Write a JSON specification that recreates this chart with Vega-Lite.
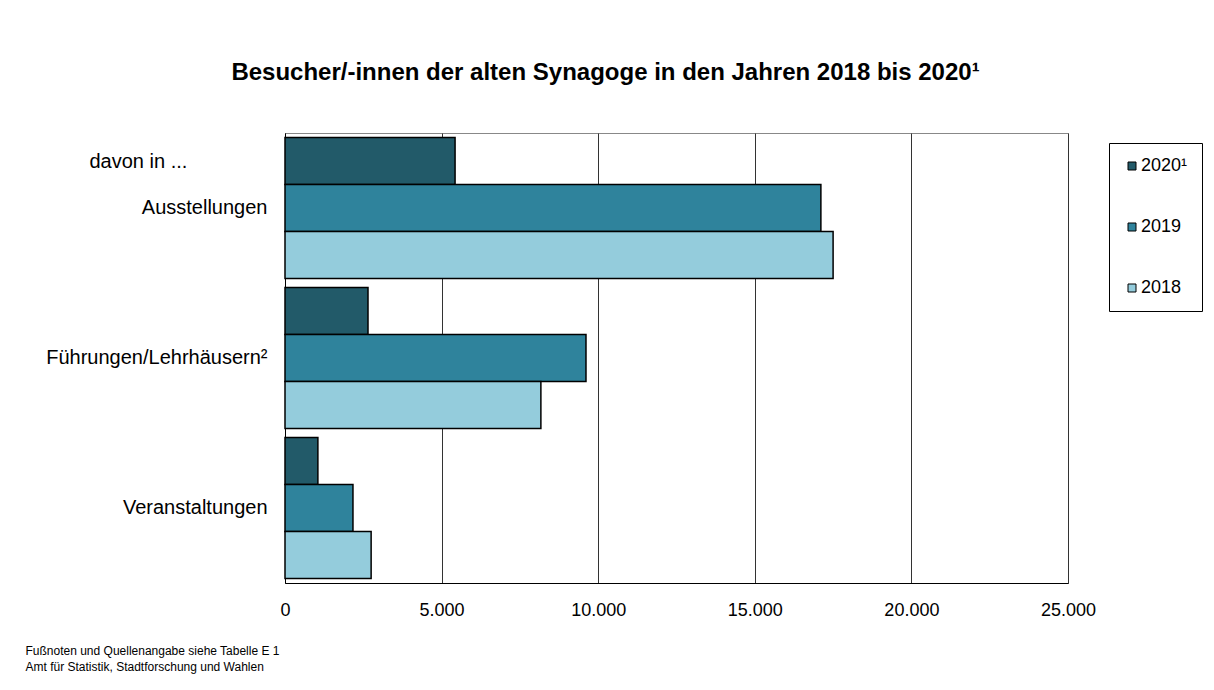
{
  "$schema": "https://vega.github.io/schema/vega-lite/v6.json",
  "width": 783,
  "height": 450,
  "autosize": {"type": "none"},
  "padding": {"left": 285, "top": 133, "right": 146, "bottom": 107},
  "background": "white",
  "title": {
    "text": "Besucher/-innen der alten Synagoge in den Jahren 2018 bis 2020¹",
    "font": "Liberation Sans",
    "fontSize": 24,
    "fontWeight": "bold",
    "color": "black",
    "anchor": "middle",
    "dx": -71,
    "offset": 48
  },
  "data": {
    "values": [
      {"kategorie": "Ausstellungen", "jahr": "2020¹", "besucher": 5430},
      {"kategorie": "Ausstellungen", "jahr": "2019", "besucher": 17110},
      {"kategorie": "Ausstellungen", "jahr": "2018", "besucher": 17500},
      {"kategorie": "Führungen/Lehrhäusern²", "jahr": "2020¹", "besucher": 2650},
      {"kategorie": "Führungen/Lehrhäusern²", "jahr": "2019", "besucher": 9610},
      {"kategorie": "Führungen/Lehrhäusern²", "jahr": "2018", "besucher": 8170},
      {"kategorie": "Veranstaltungen", "jahr": "2020¹", "besucher": 1050},
      {"kategorie": "Veranstaltungen", "jahr": "2019", "besucher": 2170},
      {"kategorie": "Veranstaltungen", "jahr": "2018", "besucher": 2750}
    ]
  },
  "mark": {"type": "bar", "stroke": "black", "strokeWidth": 1.5},
  "encoding": {
    "y": {
      "field": "kategorie",
      "type": "nominal",
      "sort": ["Ausstellungen", "Führungen/Lehrhäusern²", "Veranstaltungen"],
      "scale": {"paddingInner": 0.06, "paddingOuter": 0.03},
      "axis": {
        "title": "davon in ...",
        "titleAngle": 0,
        "titleAlign": "left",
        "titleBaseline": "middle",
        "titleX": -196,
        "titleY": 28,
        "titleFont": "Liberation Sans",
        "titleFontSize": 20,
        "titleFontWeight": "normal",
        "titleColor": "black",
        "labelFont": "Liberation Sans",
        "labelFontSize": 20,
        "labelColor": "black",
        "labelPadding": 18,
        "ticks": false,
        "domainColor": "black",
        "labelLimit": 300
      }
    },
    "yOffset": {
      "field": "jahr",
      "type": "nominal",
      "sort": ["2020¹", "2019", "2018"],
      "scale": {"paddingInner": 0, "paddingOuter": 0}
    },
    "x": {
      "field": "besucher",
      "type": "quantitative",
      "scale": {"domain": [0, 25000], "nice": false},
      "axis": {
        "values": [0, 5000, 10000, 15000, 20000, 25000],
        "labelExpr": "replace(format(datum.value, ',.0f'), ',', '.')",
        "labelFont": "Liberation Sans",
        "labelFontSize": 18,
        "labelColor": "black",
        "labelPadding": 18,
        "labelFlush": false,
        "labelOverlap": false,
        "ticks": false,
        "domainColor": "black",
        "grid": true,
        "gridColor": "#333333",
        "gridWidth": 1,
        "title": ["Fußnoten und Quellenangabe siehe Tabelle E 1", "Amt für Statistik, Stadtforschung und Wahlen"],
        "titleFont": "Liberation Sans",
        "titleFontSize": 12,
        "titleFontWeight": "normal",
        "titleColor": "black",
        "titleAlign": "left",
        "titleAnchor": "start",
        "titleBaseline": "top",
        "titleX": -260,
        "titleY": 62,
        "titleLineHeight": 16
      }
    },
    "color": {
      "field": "jahr",
      "type": "nominal",
      "sort": ["2020¹", "2019", "2018"],
      "scale": {"domain": ["2020¹", "2019", "2018"], "range": ["#225a69", "#2f839c", "#94ccdc"]},
      "legend": {
        "title": null,
        "orient": "none",
        "legendX": 824,
        "legendY": 10,
        "padding": 14,
        "strokeColor": "black",
        "fillColor": "white",
        "symbolType": "square",
        "symbolSize": 64,
        "symbolOffset": 0,
        "symbolStrokeColor": "black",
        "symbolStrokeWidth": 1,
        "symbolOpacity": 1,
        "labelFont": "Liberation Sans",
        "labelFontSize": 18,
        "labelColor": "black",
        "labelOffset": 0,
        "rowPadding": 43
      }
    }
  },
  "config": {
    "view": {"stroke": "#888888", "strokeWidth": 1}
  }
}
